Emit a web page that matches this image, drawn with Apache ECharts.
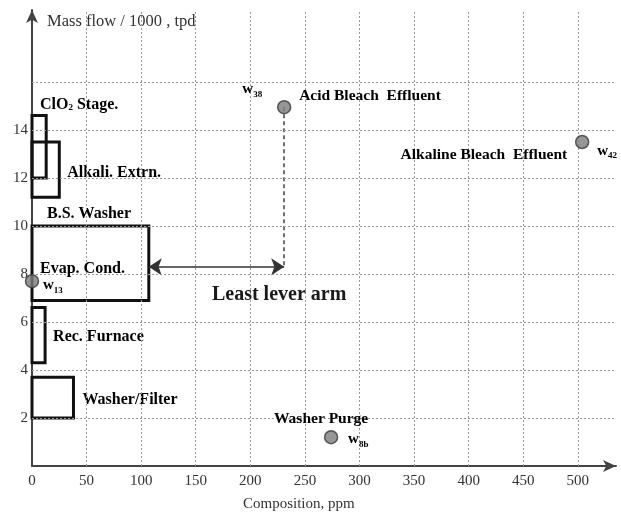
<!DOCTYPE html>
<html><head><meta charset="utf-8">
<script src="https://cdn.jsdelivr.net/npm/echarts@6/dist/echarts.min.js"></script>
<style>html,body{margin:0;padding:0;background:#fff}#c{width:621px;height:516px}</style>
</head><body><div id="c"></div>
<script>
// ---- data ----
const xTickLabels = [0, 50, 100, 150, 200, 250, 300, 350, 400, 450, 500];
const yTickLabels = [2, 4, 6, 8, 10, 12, 14];
const xGridValues = [50, 100, 150, 200, 250, 300, 350, 400, 450, 500];
const yGridValues = [2, 4, 6, 8, 10, 12, 14, 16];

const boxNames  = ['ClO{s|2}{a| Stage.}', 'Alkali. Extrn.', 'B.S. Washer', 'Rec. Furnace', 'Washer/Filter'];
const boxRight  = [13, 25, 107, 12, 38];
const boxBottom = [12, 11.2, 6.9, 4.3, 2.0];
const boxTop    = [14.6, 13.5, 10.0, 6.6, 3.7];

const streamIds   = ['38', '42', '13', '8b'];
const streamNames = ['Acid Bleach  Effluent', 'Alkaline Bleach  Effluent', 'Evap. Cond.', 'Washer Purge'];
const streamX     = [231, 504, 0, 274];
const streamY     = [14.95, 13.5, 7.7, 1.2];

const leverY = 8.3;
const leverText = 'Least lever arm';

// ---- layout / styles (not data) ----
const FONT = 'Liberation Serif, Times New Roman, serif';
const boxLabelLayout = [
  {anchor: 'topLeft', dx: 8, dy: -11},
  {anchor: 'right', dx: 8, dy: 3},
  {anchor: 'topLeft', dx: 15, dy: -12},
  {anchor: 'right', dx: 8, dy: 2},
  {anchor: 'right', dx: 9, dy: 2}
];
const streamLabelLayout = [
  {name: {dx: 15, dy: -11, align: 'left'},  id: {dx: -22, dy: -17, align: 'right'}},
  {name: {dx: -15, dy: 13, align: 'right'}, id: {dx: 15, dy: 10, align: 'left'}},
  {name: {dx: 8, dy: -12, align: 'left'},   id: {dx: 11, dy: 5, align: 'left'}},
  {name: {dx: -10, dy: -18, align: 'center'}, id: {dx: 17, dy: 3, align: 'left'}}
];
const richSub = {
  a: {fontFamily: FONT, fontSize: 15.5, fontWeight: 'bold', color: '#1a1a1a'},
  b: {fontFamily: FONT, fontSize: 16, fontWeight: 'bold', color: '#1a1a1a'},
  w: {fontFamily: FONT, fontSize: 15, fontWeight: 'bold', color: '#1a1a1a', lineHeight: 17, verticalAlign: 'top'},
  s: {fontFamily: FONT, fontSize: 9, fontWeight: 'bold', color: '#1a1a1a', lineHeight: 10, verticalAlign: 'bottom'}
};

const chart = echarts.init(document.getElementById('c'), null, {renderer: 'canvas'});

const option = {
  animation: false,
  backgroundColor: '#fff',
  title: {
    text: 'Composition, ppm', left: 243, top: 497, padding: 0,
    textStyle: {fontFamily: FONT, fontSize: 15, fontWeight: 'normal', color: '#333'}
  },
  grid: {left: 32, right: 5, top: 10, bottom: 50},
  xAxis: {
    type: 'value', min: 0, max: 535, interval: 50,
    axisLine: {show: true, symbol: ['none', 'arrow'], symbolSize: [9, 13], lineStyle: {color: '#444', width: 2}},
    axisTick: {show: false},
    splitLine: {show: false},
    axisLabel: {
      fontFamily: FONT, fontSize: 15, color: '#333', margin: 8, showMaxLabel: false,
      formatter: v => xTickLabels.includes(v) ? String(v) : ''
    }
  },
  yAxis: {
    type: 'value', min: 0, max: 19, interval: 1,
    name: 'Mass flow / 1000 , tpd', nameLocation: 'end', nameGap: -12,
    nameTextStyle: {fontFamily: FONT, fontSize: 16.5, color: '#333', align: 'left', verticalAlign: 'middle', padding: [0, 0, 0, 15]},
    axisLine: {show: true, symbol: ['none', 'arrow'], symbolSize: [9, 13], lineStyle: {color: '#444', width: 2}},
    axisTick: {show: false},
    splitLine: {show: false},
    axisLabel: {
      fontFamily: FONT, fontSize: 15, color: '#333', margin: 4,
      formatter: v => yTickLabels.includes(v) ? String(v) : ''
    }
  },
  series: [
    {
      // grid lines
      type: 'line', data: [], silent: true, z: 1,
      markLine: {
        silent: true, symbol: ['none', 'none'], label: {show: false},
        lineStyle: {color: '#9a9a9a', width: 1, type: [2, 2]},
        data: xGridValues.map(v => ({xAxis: v})).concat(yGridValues.map(v => ({yAxis: v})))
      }
    },
    {
      // process boxes
      type: 'custom', z: 3, clip: false,
      data: boxRight.map((r, i) => [r, boxBottom[i], boxTop[i]]),
      renderItem: (params, api) => {
        const i = params.dataIndex;
        const tl = api.coord([0, api.value(2)]);
        const br = api.coord([api.value(0), api.value(1)]);
        const lay = boxLabelLayout[i];
        let tx, ty;
        if (lay.anchor === 'topLeft') { tx = tl[0] + lay.dx; ty = tl[1] + lay.dy; }
        else { tx = br[0] + lay.dx; ty = (tl[1] + br[1]) / 2 + lay.dy; }
        const txt = boxNames[i].startsWith('ClO') ? '{b|' + boxNames[i].replace('ClO{s', 'ClO}{s').replace('{a|', '{b|') : '{b|' + boxNames[i] + '}';
        return {
          type: 'group',
          children: [
            {type: 'rect', shape: {x: tl[0], y: tl[1], width: br[0] - tl[0], height: br[1] - tl[1]},
             style: {fill: 'none', stroke: '#111', lineWidth: 3}},
            {type: 'text', style: {text: txt, rich: richSub, x: tx, y: ty, align: 'left', verticalAlign: 'middle'}}
          ]
        };
      }
    },
    {
      // stream points + lever arm construction
      type: 'scatter', z: 5,
      symbolSize: 13,
      itemStyle: {color: '#7c7c7c', borderColor: '#3a3a3a', borderWidth: 1.5},
      data: streamX.map((x, i) => [x, streamY[i]]),
      markLine: {
        silent: true, label: {show: false}, z: 4,
        data: [
          [{coord: [streamX[0], streamY[0]], symbol: 'none', lineStyle: {type: [4, 3], width: 1.5, color: '#444'}},
           {coord: [streamX[0], leverY], symbol: 'none'}],
          [{coord: [boxRight[2], leverY], symbol: 'arrow', symbolSize: 13, lineStyle: {type: 'solid', width: 1.5, color: '#333'}},
           {coord: [streamX[0], leverY], symbol: 'arrow', symbolSize: 13}]
        ]
      }
    },
    {
      // stream labels
      type: 'custom', z: 6, clip: false,
      data: streamX.map((x, i) => [x, streamY[i]]),
      renderItem: (params, api) => {
        const i = params.dataIndex;
        const p = api.coord([api.value(0), api.value(1)]);
        const lay = streamLabelLayout[i];
        const style = i === 2 ? 'b' : 'a';
        return {
          type: 'group',
          children: [
            {type: 'text', style: {text: '{' + style + '|' + streamNames[i] + '}', rich: richSub,
              x: p[0] + lay.name.dx, y: p[1] + lay.name.dy, align: lay.name.align, verticalAlign: 'middle'}},
            {type: 'text', style: {text: '{w|w}{s|' + streamIds[i] + '}', rich: richSub,
              x: p[0] + lay.id.dx, y: p[1] + lay.id.dy, align: lay.id.align, verticalAlign: 'middle'}}
          ]
        };
      }
    },
    {
      // lever arm caption
      type: 'custom', z: 6, clip: false,
      data: [[streamX[0], leverY]],
      renderItem: (params, api) => {
        const p = api.coord([api.value(0), api.value(1)]);
        return {type: 'text', style: {text: leverText, x: p[0] - 5, y: p[1] + 28, align: 'center', verticalAlign: 'middle',
          fontFamily: FONT, fontSize: 20, fontWeight: 'bold', fill: '#1a1a1a'}};
      }
    }
  ]
};
chart.setOption(option);
</script>
</body></html>
